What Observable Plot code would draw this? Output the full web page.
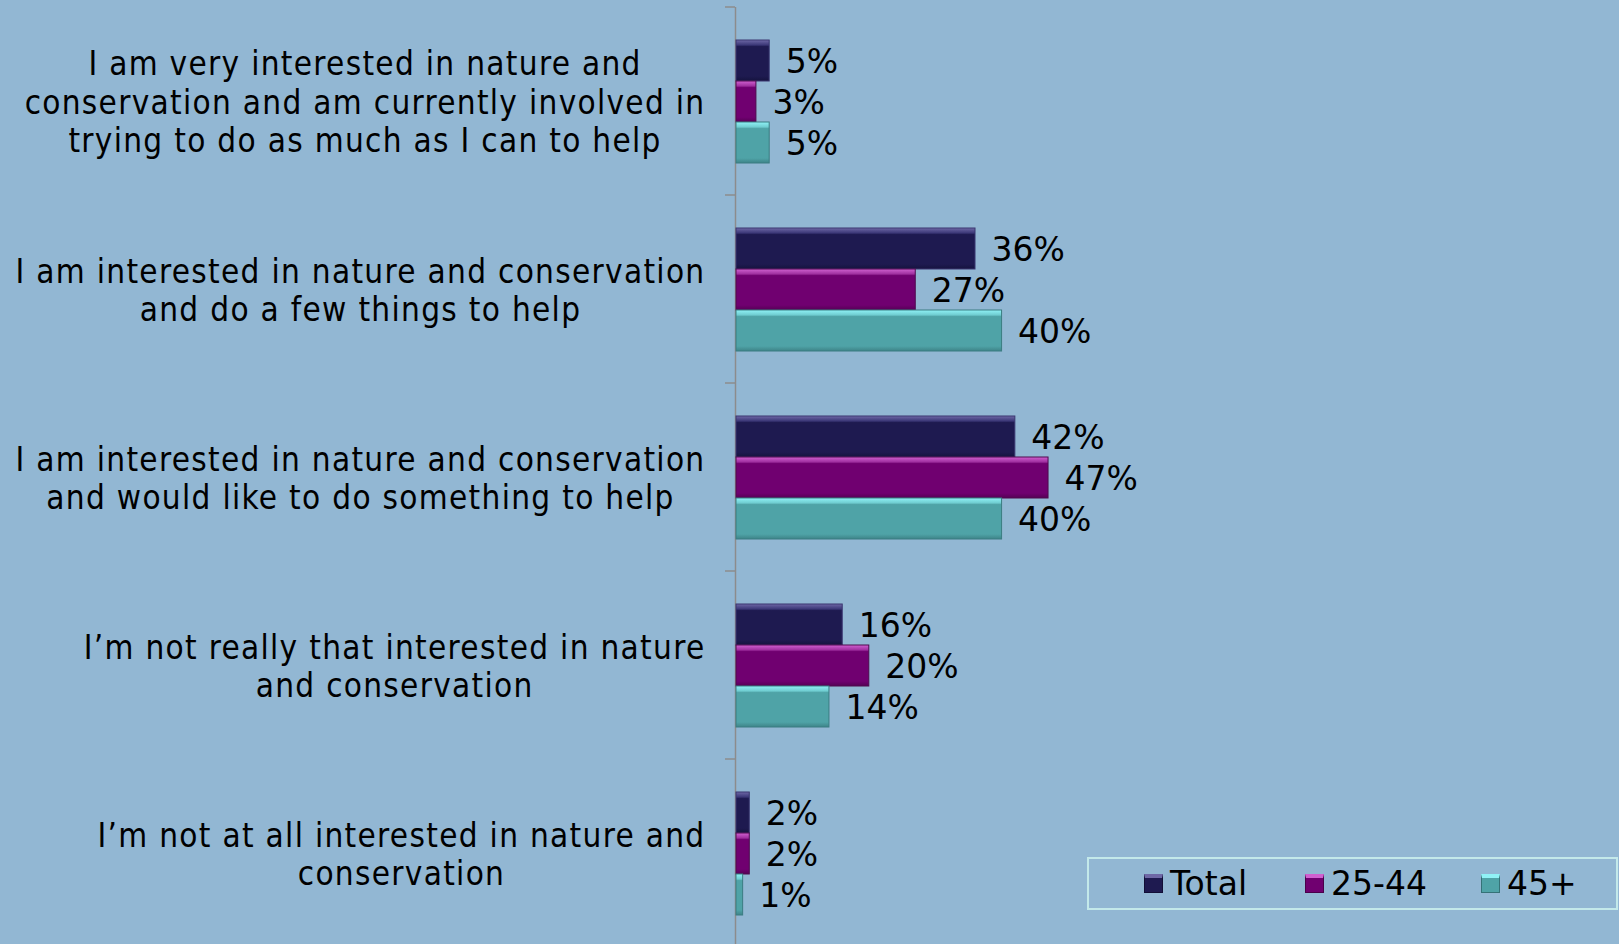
<!DOCTYPE html>
<html>
<head>
<meta charset="utf-8">
<script src="https://cdn.jsdelivr.net/npm/d3@7"></script>
<script src="https://cdn.jsdelivr.net/npm/@observablehq/plot@0.6"></script>
<style>
  html, body { margin: 0; padding: 0; background: #92b7d3; overflow: hidden; width: 1619px; height: 944px; }
  #wrap { position: relative; width: 1619px; height: 944px; overflow: hidden; }
  #wrap > svg { display: block; position: absolute; left: 0; top: 0; }
  #legend { position: absolute; left: 1087px; top: 857px; width: 527px; height: 49px;
            border: 2px solid #c3e9ea; box-sizing: content-box;
            font-family: "DejaVu Sans", Verdana, sans-serif; font-size: 33px; color: #000; }
  #legend .item { position: absolute; top: 0; height: 49px; display: flex; align-items: center; gap: 7px; }
  #legend .sw { width: 19px; height: 19px; box-sizing: border-box; }
</style>
</head>
<body>
<svg width="0" height="0" style="position:absolute">
  <defs>
    <linearGradient id="gTotal" x1="0" y1="0" x2="0" y2="1">
      <stop offset="0" stop-color="#6e68a6"/>
      <stop offset="0.12" stop-color="#3c3878"/>
      <stop offset="0.16" stop-color="#1e1a50"/>
      <stop offset="0.88" stop-color="#1e1a50"/>
      <stop offset="1" stop-color="#15133e"/>
    </linearGradient>
    <linearGradient id="g2544" x1="0" y1="0" x2="0" y2="1">
      <stop offset="0" stop-color="#d060d0"/>
      <stop offset="0.12" stop-color="#a030a0"/>
      <stop offset="0.16" stop-color="#700070"/>
      <stop offset="0.88" stop-color="#700070"/>
      <stop offset="1" stop-color="#560056"/>
    </linearGradient>
    <linearGradient id="g45" x1="0" y1="0" x2="0" y2="1">
      <stop offset="0" stop-color="#90f2f6"/>
      <stop offset="0.12" stop-color="#70cdd1"/>
      <stop offset="0.16" stop-color="#4fa3a7"/>
      <stop offset="0.88" stop-color="#4fa3a7"/>
      <stop offset="1" stop-color="#3e8488"/>
    </linearGradient>
  </defs>
</svg>
<div id="wrap"></div>
<script>
// ---- data ----
const categories = [
  "I am very interested in nature and\nconservation and am currently involved in\ntrying to do as much as I can to help",
  "I am interested in nature and conservation\nand do a few things to help",
  "I am interested in nature and conservation\nand would like to do something to help",
  "I\u2019m not really that interested in nature\nand conservation",
  "I\u2019m not at all interested in nature and\nconservation"
];
const seriesNames = ["Total", "25-44", "45+"];
const totalValues = [5, 36, 42, 16, 2];
const age25to44Values = [3, 27, 47, 20, 2];
const age45plusValues = [5, 40, 40, 14, 1];

// ---- styles ----
const fills = {"Total": "url(#gTotal)", "25-44": "url(#g2544)", "45+": "url(#g45)"};
const strokes = {"Total": "#3a3770", "25-44": "#4e0a4e", "45+": "#3b7d82"};
const swatch = {"Total": ["#1e1a50", "#6e68a6", "#120f36"], "25-44": ["#700070", "#d060d0", "#4a004a"], "45+": ["#4fa3a7", "#90f2f6", "#357277"]};
const legendOffsets = [55, 216, 392];

const valueSets = [totalValues, age25to44Values, age45plusValues];
const rows = categories.flatMap((c, i) =>
  seriesNames.map((s, j) => ({category: c, series: s, value: valueSets[j][i]})));

const chart = Plot.plot({
  width: 1619,
  height: 947,
  marginTop: 7,
  marginBottom: 0,
  marginLeft: 736,
  marginRight: 0,
  style: {background: "transparent", overflow: "visible"},
  x: {domain: [0, 133], axis: null},
  y: {domain: seriesNames, paddingInner: 0, paddingOuter: 0.75, axis: null},
  fy: {domain: categories, padding: 0, axis: null},
  color: {type: "identity"},
  marks: [
    Plot.ruleX([0], {stroke: "#8c8c8c", strokeWidth: 1.5, dx: -1}),
    Plot.barX(rows, {
      fy: "category", y: "series", x: "value",
      fill: d => fills[d.series], stroke: d => strokes[d.series], strokeWidth: 1
    }),
    Plot.text(rows, {
      fy: "category", y: "series", x: "value",
      text: d => d.value + "%", dx: 16, dy: 1, textAnchor: "start",
      fontSize: 33, fontFamily: "DejaVu Sans", fill: "#000"
    }),
    Plot.text(categories, {
      fy: d => d, text: d => d, frameAnchor: "left", textAnchor: "end",
      dx: -31, lineHeight: 1.167, fontSize: 33, fontFamily: "DejaVu Sans Condensed",
      fill: "#000", ariaDescription: "cat-labels"
    })
  ]
});

document.getElementById("wrap").appendChild(chart);
const svg = d3.select(chart);

// centre each line of a category label within its right-aligned block
svg.selectAll('g[aria-description="cat-labels"] text').each(function () {
  const t = d3.select(this);
  t.style("letter-spacing", "1.3px");
  const bb = this.getBBox();
  const cx = bb.x + bb.width / 2;
  t.attr("text-anchor", "middle");
  const ts = t.selectAll("tspan");
  if (ts.size()) ts.attr("x", cx); else t.attr("x", cx);
});

// category boundary ticks on the vertical axis
let fyScale = null;
try { fyScale = chart.scale("fy"); } catch (e) {}
const fyApply = fyScale && fyScale.apply ? (v) => fyScale.apply(v)
  : d3.scaleBand(categories, [7, 947]);
const xScale = chart.scale("x");
const x0 = xScale.apply(0) - 1;
const tg = svg.append("g").attr("stroke", "#8c8c8c").attr("stroke-width", 1.5);
categories.forEach(c => {
  const y = fyApply(c);
  tg.append("line").attr("x1", x0 - 10).attr("x2", x0).attr("y1", y).attr("y2", y);
});

// legend (overlaps the plot, as in the original)
const legend = d3.select("#wrap").append("div").attr("id", "legend");
seriesNames.forEach((s, i) => {
  const it = legend.append("div").attr("class", "item").style("left", legendOffsets[i] + "px");
  it.append("div").attr("class", "sw")
    .style("background", swatch[s][0])
    .style("border-top", "4px solid " + swatch[s][1])
    .style("border-left", "1px solid " + swatch[s][2])
    .style("border-right", "1px solid " + swatch[s][2])
    .style("border-bottom", "1px solid " + swatch[s][2]);
  it.append("span").text(s);
});
</script>
</body>
</html>
